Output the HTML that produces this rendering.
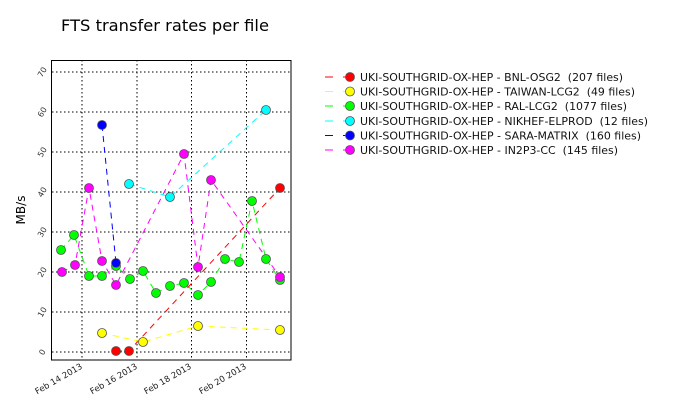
<!DOCTYPE html>
<html><head><style>body{margin:0;background:#fff;width:677px;height:400px;overflow:hidden}text{white-space:pre}</style></head><body>
<svg width="677" height="400" xmlns="http://www.w3.org/2000/svg" font-family="DejaVu Sans, Liberation Sans, sans-serif">
<text x="61" y="31" font-size="16" textLength="208" lengthAdjust="spacingAndGlyphs">FTS transfer rates per file</text>
<text transform="translate(25,210) rotate(-90)" font-size="12" text-anchor="middle">MB/s</text>
<g stroke="#000" stroke-dasharray="1.5,2.5" stroke-width="1">
<line x1="52" x2="291" y1="72" y2="72"/><line x1="52" x2="291" y1="112" y2="112"/><line x1="52" x2="291" y1="152" y2="152"/><line x1="52" x2="291" y1="192" y2="192"/><line x1="52" x2="291" y1="232" y2="232"/><line x1="52" x2="291" y1="272" y2="272"/><line x1="52" x2="291" y1="312" y2="312"/><line x1="52" x2="291" y1="352" y2="352"/>
<line x1="82" x2="82" y1="60" y2="360"/><line x1="137" x2="137" y1="60" y2="360"/><line x1="191.5" x2="191.5" y1="60" y2="360"/><line x1="246.5" x2="246.5" y1="60" y2="360"/>
</g>
<g font-size="8" fill="#333" text-anchor="middle">
<text transform="translate(42,72) rotate(-60)" dy="3">70</text>
<text transform="translate(42,112) rotate(-60)" dy="3">60</text>
<text transform="translate(42,152) rotate(-60)" dy="3">50</text>
<text transform="translate(42,192) rotate(-60)" dy="3">40</text>
<text transform="translate(42,232) rotate(-60)" dy="3">30</text>
<text transform="translate(42,272) rotate(-60)" dy="3">20</text>
<text transform="translate(42,312) rotate(-60)" dy="3">10</text>
<text transform="translate(42,352) rotate(-60)" dy="3">0</text>
</g>
<g font-size="8.5" fill="#222" text-anchor="end">
<text transform="translate(83,368) rotate(-30)">Feb 14 2013</text>
<text transform="translate(138,368) rotate(-30)">Feb 16 2013</text>
<text transform="translate(192,368) rotate(-30)">Feb 18 2013</text>
<text transform="translate(247,368) rotate(-30)">Feb 20 2013</text>
</g>
<g fill="none" stroke-dasharray="6,5" stroke-width="1">
<polyline stroke="#00ff00" points="61,250 74,235 89,276 102,276 116,266 130,279 143,271 156,293 170,286 184,283 198,295 211,282 225,259 239,262 252,201 266,259 280,280"/>
<polyline stroke="#ff00ff" points="62,272 75,265 89,188 102,261 116,285 184,154 198,267 211,180 280,277"/>
<polyline stroke="#0000ff" points="102,125 116,263"/>
<polyline stroke="#00ffff" points="129,184 170,197 266,110"/>
<polyline stroke="#ff0000" points="116,351 129,351 280,188"/>
<polyline stroke="#ffff00" points="102,333 143,342 198,326 280,330"/>
</g>
<g stroke="#555" stroke-width="0.8" >
<g fill="#00ff00"><circle cx="61" cy="250" r="4.5"/><circle cx="74" cy="235" r="4.5"/><circle cx="89" cy="276" r="4.5"/><circle cx="102" cy="276" r="4.5"/><circle cx="116" cy="266" r="4.5"/><circle cx="130" cy="279" r="4.5"/><circle cx="143" cy="271" r="4.5"/><circle cx="156" cy="293" r="4.5"/><circle cx="170" cy="286" r="4.5"/><circle cx="184" cy="283" r="4.5"/><circle cx="198" cy="295" r="4.5"/><circle cx="211" cy="282" r="4.5"/><circle cx="225" cy="259" r="4.5"/><circle cx="239" cy="262" r="4.5"/><circle cx="252" cy="201" r="4.5"/><circle cx="266" cy="259" r="4.5"/><circle cx="280" cy="280" r="4.5"/></g>
<g fill="#ff00ff"><circle cx="62" cy="272" r="4.5"/><circle cx="75" cy="265" r="4.5"/><circle cx="89" cy="188" r="4.5"/><circle cx="102" cy="261" r="4.5"/><circle cx="116" cy="285" r="4.5"/><circle cx="184" cy="154" r="4.5"/><circle cx="198" cy="267" r="4.5"/><circle cx="211" cy="180" r="4.5"/><circle cx="280" cy="277" r="4.5"/></g>
<g fill="#0000ff"><circle cx="102" cy="125" r="4.5"/><circle cx="116" cy="263" r="4.5"/></g>
<g fill="#00ffff"><circle cx="129" cy="184" r="4.5"/><circle cx="170" cy="197" r="4.5"/><circle cx="266" cy="110" r="4.5"/></g>
<g fill="#ff0000"><circle cx="116" cy="351" r="4.5"/><circle cx="129" cy="351" r="4.5"/><circle cx="280" cy="188" r="4.5"/></g>
<g fill="#ffff00"><circle cx="102" cy="333" r="4.5"/><circle cx="143" cy="342" r="4.5"/><circle cx="198" cy="326" r="4.5"/><circle cx="280" cy="330" r="4.5"/></g>
</g>
<rect x="51.5" y="60.5" width="239.5" height="299.5" fill="none" stroke="#000" stroke-width="1"/>
<g font-size="11" fill="#111">
<g transform="translate(0,77)"><line x1="325" x2="333" stroke="#f00"/><line x1="343" x2="350" stroke="#f00"/><circle cx="350" cy="0" r="4.5" fill="#f00" stroke="#555" stroke-width="0.8"/><text x="360" y="4" textLength="263" lengthAdjust="spacingAndGlyphs">UKI-SOUTHGRID-OX-HEP - BNL-OSG2  (207 files)</text></g>
<g transform="translate(0,91.5)"><line x1="325" x2="333" stroke="#ff0"/><line x1="343" x2="350" stroke="#ff0"/><circle cx="350" cy="0" r="4.5" fill="#ff0" stroke="#555" stroke-width="0.8"/><text x="360" y="4" textLength="275" lengthAdjust="spacingAndGlyphs">UKI-SOUTHGRID-OX-HEP - TAIWAN-LCG2  (49 files)</text></g>
<g transform="translate(0,106)"><line x1="325" x2="333" stroke="#0f0"/><line x1="343" x2="350" stroke="#0f0"/><circle cx="350" cy="0" r="4.5" fill="#0f0" stroke="#555" stroke-width="0.8"/><text x="360" y="4" textLength="267" lengthAdjust="spacingAndGlyphs">UKI-SOUTHGRID-OX-HEP - RAL-LCG2  (1077 files)</text></g>
<g transform="translate(0,121)"><line x1="325" x2="333" stroke="#0ff"/><line x1="343" x2="350" stroke="#0ff"/><circle cx="350" cy="0" r="4.5" fill="#0ff" stroke="#555" stroke-width="0.8"/><text x="360" y="4" textLength="288" lengthAdjust="spacingAndGlyphs">UKI-SOUTHGRID-OX-HEP - NIKHEF-ELPROD  (12 files)</text></g>
<g transform="translate(0,135.5)"><line x1="325" x2="333" stroke="#00f"/><line x1="343" x2="350" stroke="#00f"/><circle cx="350" cy="0" r="4.5" fill="#00f" stroke="#555" stroke-width="0.8"/><text x="360" y="4" textLength="281" lengthAdjust="spacingAndGlyphs">UKI-SOUTHGRID-OX-HEP - SARA-MATRIX  (160 files)</text></g>
<g transform="translate(0,150)"><line x1="325" x2="333" stroke="#f0f"/><line x1="343" x2="350" stroke="#f0f"/><circle cx="350" cy="0" r="4.5" fill="#f0f" stroke="#555" stroke-width="0.8"/><text x="360" y="4" textLength="258" lengthAdjust="spacingAndGlyphs">UKI-SOUTHGRID-OX-HEP - IN2P3-CC  (145 files)</text></g>
</g>
</svg>
</body></html>
